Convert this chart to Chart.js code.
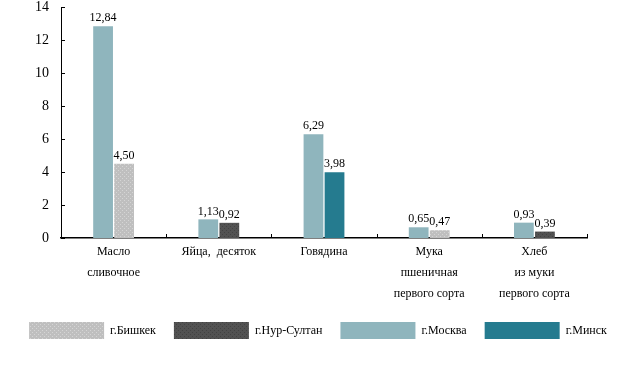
<!DOCTYPE html>
<html>
<head>
<meta charset="utf-8">
<script src="https://cdn.jsdelivr.net/npm/chart.js@4/dist/chart.umd.min.js"></script>
<style>
  html, body { margin: 0; padding: 0; background: #fff; }
  #wrap { width: 636px; height: 367px; position: relative; }
</style>
</head>
<body>
<div id="wrap"><canvas id="priceChart"></canvas></div>
<script>
// categories and values
const categories = [
    ['Масло', 'сливочное'],
    ['Яйца,  десяток'],
    ['Говядина'],
    ['Мука', 'пшеничная', 'первого сорта'],
    ['Хлеб', 'из муки', 'первого сорта']
];
const moscow    = [12.84, 1.13, 6.29, 0.65, 0.93];
const bishkek   = [4.50, null, null, 0.47, null];
const nurSultan = [null, 0.92, null, null, 0.39];
const minsk     = [null, null, 3.98, null, null];
const yTicks    = [0, 2, 4, 6, 8, 10, 12, 14];
const legendOrder = ['г.Бишкек', 'г.Нур-Султан', 'г.Москва', 'г.Минск'];

const serif = '"Liberation Serif", "DejaVu Serif", serif';

// speckled fills like the original
function speckle(base, dot) {
    const c = document.createElement('canvas');
    c.width = 4; c.height = 4;
    const g = c.getContext('2d');
    g.fillStyle = base;
    g.fillRect(0, 0, 4, 4);
    g.fillStyle = dot;
    g.fillRect(0, 0, 1, 1);
    g.fillRect(2, 2, 1, 1);
    return g.createPattern(c, 'repeat');
}

const colors = {
    moscow: '#8fb5bd',
    minsk: '#257b8f',
    bishkek: speckle('#bfbfbf', '#d5d5d5'),
    nurSultan: speckle('#525252', '#424242')
};

function fmt(v) {
    return v.toFixed(2).replace('.', ',');
}

// value labels above the bars
const valueLabels = {
    id: 'valueLabels',
    afterDatasetsDraw(chart) {
        const ctx = chart.ctx;
        ctx.save();
        ctx.font = '12px ' + serif;
        ctx.fillStyle = '#000';
        ctx.textAlign = 'center';
        ctx.textBaseline = 'bottom';
        chart.data.datasets.forEach((ds, i) => {
            chart.getDatasetMeta(i).data.forEach((bar, j) => {
                if (ds.data[j] == null) return;
                ctx.fillText(fmt(ds.data[j]), bar.x, bar.y - 2);
            });
        });
        ctx.restore();
    }
};

// small tick marks pointing into the plot
const innerTicks = {
    id: 'innerTicks',
    afterDraw(chart) {
        const ctx = chart.ctx;
        const x = chart.scales.x, y = chart.scales.y;
        ctx.save();
        ctx.strokeStyle = '#000';
        ctx.lineWidth = 1;
        ctx.beginPath();
        y.ticks.forEach((t, i) => {
            const py = Math.round(y.getPixelForTick(i)) + 0.5;
            ctx.moveTo(x.left, py);
            ctx.lineTo(x.left + 4, py);
        });
        for (let i = 1; i <= categories.length; i++) {
            const px = Math.round(x.left + (x.right - x.left) * i / categories.length) + 0.5;
            ctx.moveTo(px, y.bottom);
            ctx.lineTo(px, y.bottom - 4);
        }
        ctx.stroke();
        ctx.restore();
    }
};

const barOpts = { categoryPercentage: 0.4, barPercentage: 0.94, skipNull: true, borderWidth: 0 };

new Chart(document.getElementById('priceChart'), {
    type: 'bar',
    data: {
        labels: categories,
        datasets: [
            Object.assign({ label: 'г.Москва', data: moscow, backgroundColor: colors.moscow }, barOpts),
            Object.assign({ label: 'г.Бишкек', data: bishkek, backgroundColor: colors.bishkek }, barOpts),
            Object.assign({ label: 'г.Нур-Султан', data: nurSultan, backgroundColor: colors.nurSultan }, barOpts),
            Object.assign({ label: 'г.Минск', data: minsk, backgroundColor: colors.minsk }, barOpts)
        ]
    },
    options: {
        responsive: true,
        maintainAspectRatio: false,
        animation: false,
        layout: { padding: { left: 0, right: 0, top: 0, bottom: 18 } },
        scales: {
            x: {
                afterFit: (s) => { s.height = 66; },
                grid: { display: false, drawTicks: false },
                border: { display: true, color: '#000', width: 1.5 },
                ticks: {
                    color: '#000',
                    font: { family: serif, size: 12, lineHeight: 1.75 },
                    padding: 3,
                    maxRotation: 0,
                    autoSkip: false
                }
            },
            y: {
                min: 0,
                max: 14,
                afterFit: (s) => { s.width = 61; s.paddingTop = 7; },
                afterBuildTicks: (s) => { s.ticks = yTicks.map(v => ({ value: v })); },
                grid: { display: false, drawTicks: false },
                border: { display: true, color: '#000', width: 1 },
                ticks: {
                    color: '#000',
                    font: { family: serif, size: 14 },
                    padding: 12
                }
            },
            // empty right margin
            yRight: {
                position: 'right',
                min: 0,
                max: 14,
                afterFit: (s) => { s.width = 49; s.paddingTop = 0; },
                grid: { display: false },
                border: { display: false },
                ticks: { display: false }
            }
        },
        plugins: {
            tooltip: { enabled: false },
            legend: {
                position: 'bottom',
                labels: {
                    boxWidth: 75,
                    boxHeight: 17,
                    padding: 18,
                    color: '#000',
                    font: { family: serif, size: 12 },
                    sort: (a, b) => legendOrder.indexOf(a.text) - legendOrder.indexOf(b.text)
                }
            }
        }
    },
    plugins: [valueLabels, innerTicks]
});
</script>
</body>
</html>
